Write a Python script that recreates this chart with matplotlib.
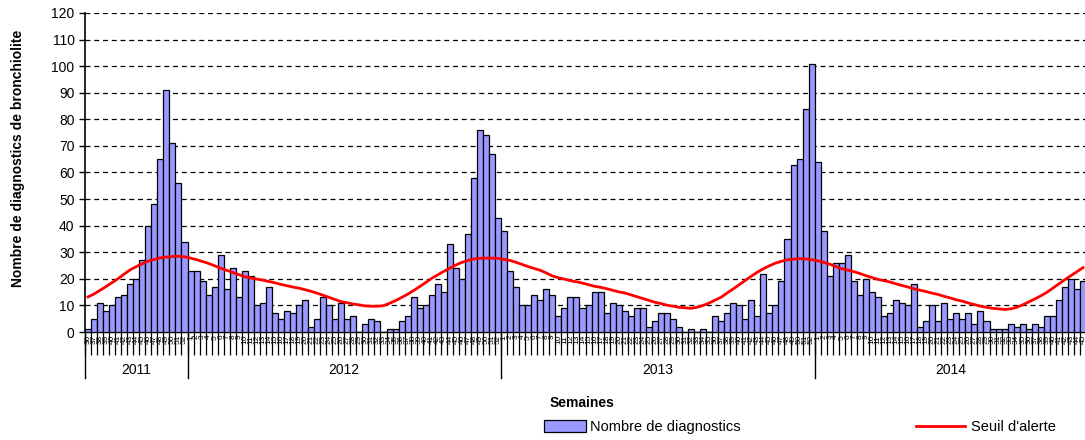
import numpy as np
import matplotlib
matplotlib.use('Agg')
import matplotlib.pyplot as plt
from matplotlib.patches import Patch
from matplotlib.lines import Line2D

plt.rcParams['font.family'] = ['Liberation Sans', 'DejaVu Sans']

# semaines affichees
annees = ['2011', '2012', '2013', '2014']
semaines_2011 = list(range(36, 53))
semaines_2012 = list(range(1, 53))
semaines_2013 = list(range(1, 53))
semaines_2014 = list(range(1, 46))

# nombre de diagnostics par semaine
cas_2011 = [1, 5, 11, 8, 10, 13, 14, 18, 20, 27, 40, 48, 65, 91, 71, 56, 34]
cas_2012 = [23, 23, 19, 14, 17, 29, 16, 24, 13, 23, 21, 10, 11, 17, 7, 5, 8, 7, 10, 12,
            2, 5, 13, 10, 5, 11, 5, 6, 0, 3, 5, 4, 0, 1, 1, 4, 6, 13, 9, 10,
            14, 18, 15, 33, 24, 20, 37, 58, 76, 74, 67, 43]
cas_2013 = [38, 23, 17, 10, 10, 14, 12, 16, 14, 6, 9, 13, 13, 9, 10, 15, 15, 7, 11, 10,
            8, 6, 9, 9, 2, 4, 7, 7, 5, 2, 0, 1, 0, 1, 0, 6, 4, 7, 11, 10,
            5, 12, 6, 22, 7, 10, 19, 35, 63, 65, 84, 101]
cas_2014 = [64, 38, 21, 26, 26, 29, 19, 14, 20, 15, 13, 6, 7, 12, 11, 10, 18, 2, 4, 10,
            4, 11, 5, 7, 5, 7, 3, 8, 4, 1, 1, 1, 3, 2, 3, 1, 3, 2, 6, 6,
            12, 17, 20, 16, 19]

# seuil d'alerte
seuil_2011 = [13.2, 14.3, 15.7, 17.1, 18.6, 20.1, 21.8, 23.4, 24.6, 25.7, 26.7, 27.3,
              27.9, 28.2, 28.4, 28.5, 28.3]
seuil_2012 = [27.8, 27.2, 26.5, 25.8, 24.9, 24.0, 23.2, 22.4, 21.6, 20.8, 20.3, 19.9,
              19.5, 19.0, 18.5, 17.9, 17.4, 16.9, 16.5, 15.9, 15.3, 14.6, 13.8,
              13.0, 12.2, 11.4, 11.0, 10.5, 10.2, 9.8, 9.7, 9.7, 9.9,
              10.8, 11.8, 13.0, 14.2, 15.6, 17.1, 18.6, 20.2, 21.5, 22.8,
              24.0, 25.2, 26.2, 26.9, 27.5, 27.7, 27.8, 27.8, 27.7]
seuil_2013 = [27.3, 26.9, 26.2, 25.4, 24.6, 23.9, 23.2, 22.2, 21.1, 20.4, 19.9,
              19.3, 18.9, 18.4, 17.8, 17.2, 16.8, 16.3, 15.7, 15.1, 14.7,
              14.0, 13.3, 12.6, 11.9, 11.2, 10.7, 10.1, 9.7, 9.3, 9.1,
              8.9, 9.3, 10.0, 10.9, 12.0, 13.1, 14.7, 16.2, 17.8, 19.4,
              21.0, 22.5, 23.8, 24.9, 25.9, 26.6, 27.2, 27.4, 27.6, 27.5, 27.2]
seuil_2014 = [26.8, 26.2, 25.5, 24.6, 23.8, 23.3, 22.7, 22.0, 21.2,
              20.5, 19.8, 19.3, 18.8, 18.1, 17.5, 16.9, 16.2, 15.7, 15.2,
              14.6, 14.1, 13.4, 12.8, 12.1, 11.6, 10.9, 10.3, 9.7, 9.3,
              8.9, 8.7, 8.5, 8.7, 9.3, 10.2, 11.3, 12.4, 13.6, 14.9,
              16.5, 18.1, 19.7, 21.2, 22.7, 24.2]

semaines = semaines_2011 + semaines_2012 + semaines_2013 + semaines_2014
cas = np.array(cas_2011 + cas_2012 + cas_2013 + cas_2014)
seuil = np.array(seuil_2011 + seuil_2012 + seuil_2013 + seuil_2014)
nb_annee = [len(semaines_2011), len(semaines_2012), len(semaines_2013), len(semaines_2014)]
x = np.arange(len(cas))

fig = plt.figure(figsize=(10.85, 4.40), dpi=100)
ax = fig.add_axes([85 / 1085, 108 / 440, 1001 / 1085, 319 / 440])

ax.bar(x, cas, width=1.0, color='#9999ff', edgecolor='black', linewidth=0.9, zorder=3)
ax.plot(x, seuil, color='#ff0000', linewidth=2.0, zorder=4)

ax.set_ylim(0, 120)
ax.set_xlim(-0.5, len(cas) - 0.5)
ax.set_yticks(np.arange(0, 121, 10))
ax.tick_params(axis='y', labelsize=10, length=4, width=1)
ax.yaxis.grid(True, color='black', linestyle=(0, (4, 3)), linewidth=0.9, zorder=0)

for s in ['top', 'right']:
    ax.spines[s].set_visible(False)
ax.spines['left'].set_linewidth(1.2)
ax.spines['bottom'].set_linewidth(1.0)

# labels des semaines + traits entre categories
ax.set_xticks(x)
ax.set_xticklabels([str(s) for s in semaines], rotation=90, fontsize=6)
ax.tick_params(axis='x', which='major', length=0, pad=2)
ax.set_xticks(np.arange(-0.5, len(cas), 1.0), minor=True)
ax.tick_params(axis='x', which='minor', length=16.5, width=0.9, direction='out')

# annees
trans = ax.get_xaxis_transform()
debut = -0.5
for an, n in zip(annees, nb_annee):
    fin = debut + n
    ax.plot([debut, debut], [0, -0.145], color='black', linewidth=1.0, transform=trans, clip_on=False)
    ax.text((debut + fin) / 2, -0.118, an, transform=trans, ha='center', va='center', fontsize=10)
    debut = fin

fig.text(18 / 1085, 1 - 158 / 440, 'Nombre de diagnostics de bronchiolite', rotation=90,
         ha='center', va='center', fontsize=10, fontweight='bold',
         family=['Liberation Sans Narrow', 'Liberation Sans'])
fig.text(582 / 1085, 1 - 403 / 440, 'Semaines', ha='center', va='center', fontsize=10, fontweight='bold')

leg_y = 1 - 427 / 440
fig.legend([Patch(facecolor='#9999ff', edgecolor='black', linewidth=0.9)], ['Nombre de diagnostics'],
           frameon=False, loc='center left', bbox_to_anchor=(538 / 1085, leg_y), fontsize=10.5,
           handlelength=2.9, handleheight=0.9, handletextpad=0.3, borderaxespad=0)
fig.legend([Line2D([0], [0], color='#ff0000', linewidth=2.0)], ["Seuil d'alerte"],
           frameon=False, loc='center left', bbox_to_anchor=(910 / 1085, leg_y), fontsize=10.5,
           handlelength=3.4, handletextpad=0.4, borderaxespad=0)

fig.savefig('out.png', dpi=100)
